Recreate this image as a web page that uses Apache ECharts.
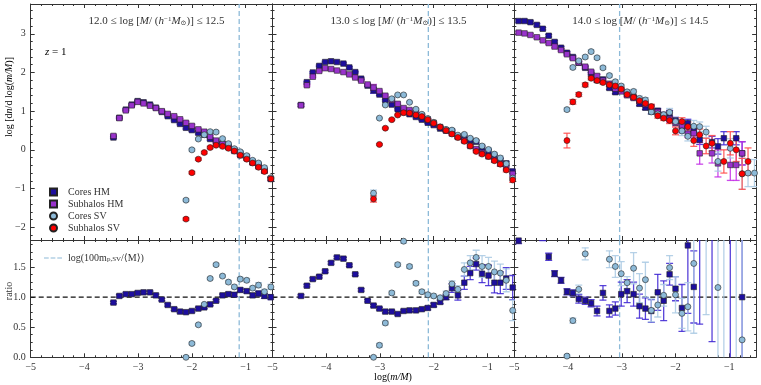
<!DOCTYPE html>
<html>
<head>
<meta charset="utf-8">
<script src="https://cdn.jsdelivr.net/npm/echarts@6/dist/echarts.min.js"></script>
<style>
  html, body { margin: 0; padding: 0; background: #fff; }
  #chart { width: 761px; height: 385px; }
</style>
</head>
<body>
<div id="chart"></div>
<script>
// bin centres in log(m/M), shared by the three halo-mass panels
var logm = [-4.92,-4.81,-4.70,-4.58,-4.47,-4.36,-4.25,-4.13,-4.02,-3.91,-3.80,-3.68,-3.57,-3.46,-3.35,-3.23,-3.12,-3.01,-2.90,-2.78,
            -2.67,-2.56,-2.45,-2.33,-2.22,-2.11,-2.00,-1.88,-1.77,-1.66,-1.55,-1.43,-1.32,-1.21,-1.10,-0.98,-0.87,-0.76,-0.65,-0.53];
var xP1 = logm.slice(13), xP2 = logm.slice(4), xP3 = logm;

var panelTitles = ['12.0', '12.5', '13.0', '13.5', '14.0', '14.5'];
var vLines = [-1.12, -2.10, -3.04];

var xTicks = [-5, -4, -3, -2, -1];
var topTicks = [-2, -1, 0, 1, 2, 3];
var ratioTicks = [0, 0.5, 1, 1.5];
var ratioTickLabels = ['0.0', '0.5', '1.0', '1.5'];

// panel 1: 12.0 - 12.5
var p1CoresHM = [0.32,0.83,1.04,1.17,1.26,1.23,1.17,1.09,0.98,0.87,0.77,0.67,0.57,0.51,0.44,0.39,0.28,0.21,0.16,0.09,-0.01,-0.09,-0.18,-0.32,-0.40,-0.53,-0.75];
var p1SubHM = [0.36,0.82,1.02,1.15,1.24,1.20,1.14,1.08,1.00,0.93,0.87,0.79,0.70,0.62,0.53,0.47,0.34,0.24,0.15,0.07,-0.03,-0.14,-0.22,-0.33,-0.43,-0.54,-0.75];
var p1CoresSV = [null,null,null,null,null,null,null,null,null,null,null,null,-1.30,0.00,0.28,0.39,0.47,0.46,0.29,0.16,0.03,-0.05,-0.15,-0.27,-0.34,-0.46,-0.72];
var p1SubSV = [null,null,null,null,null,null,null,null,null,null,null,null,-1.79,-0.59,-0.24,-0.07,0.06,0.12,0.09,0.04,-0.03,-0.14,-0.24,-0.34,-0.45,-0.56,-0.75];
var p1Err = [0.03,0.02,0.02,0.02,0.02,0.02,0.02,0.02,0.02,0.02,0.02,0.02,0.03,0.03,0.03,0.03,0.03,0.03,0.03,0.03,0.03,0.03,0.03,0.03,0.03,0.04,0.04];
var p1RatioHM = [0.91,1.02,1.05,1.05,1.07,1.08,1.08,1.03,0.96,0.87,0.80,0.76,0.75,0.77,0.81,0.83,0.88,0.94,1.03,1.05,1.04,1.12,1.10,1.03,1.06,1.02,1.00];
var p1RatioSV = [null,null,null,null,null,null,null,null,null,null,null,null,0.00,0.23,0.54,0.88,1.31,1.54,1.35,1.25,1.17,1.30,1.28,1.15,1.20,1.09,1.17];
var p1RatioErr = [0.02,0.02,0.02,0.02,0.02,0.02,0.02,0.02,0.02,0.02,0.02,0.02,0.02,0.02,0.02,0.02,0.02,0.02,0.02,0.03,0.03,0.03,0.03,0.03,0.04,0.04,0.04];

// panel 2: 13.0 - 13.5
var p2CoresHM = [1.16,1.75,2.00,2.17,2.27,2.29,2.27,2.23,2.13,2.01,1.84,1.66,1.54,1.43,1.28,1.17,1.05,0.97,0.92,0.85,0.78,0.70,0.64,0.55,0.50,0.48,0.34,0.33,0.25,0.21,0.06,-0.04,-0.17,-0.27,-0.35,-0.56];
var p2SubHM = [1.15,1.67,1.89,2.04,2.11,2.09,2.05,2.01,1.95,1.87,1.79,1.69,1.61,1.52,1.40,1.29,1.19,1.08,1.03,0.96,0.88,0.79,0.70,0.59,0.50,0.42,0.33,0.24,0.10,0.02,-0.08,-0.17,-0.26,-0.36,-0.47,-0.62];
var p2CoresSV = [null,null,null,null,null,null,null,null,null,null,null,null,-1.12,0.82,1.16,1.32,1.42,1.42,1.23,1.05,0.92,0.81,0.71,0.59,0.53,0.51,0.38,0.40,0.30,0.24,0.10,0.01,-0.11,-0.21,-0.36,-0.73];
var p2SubSV = [null,null,null,null,null,null,null,null,null,null,null,null,-1.27,0.14,0.56,0.78,0.90,0.96,0.95,0.90,0.86,0.78,0.69,0.59,0.50,0.41,0.32,0.22,0.10,-0.04,-0.11,-0.17,-0.28,-0.37,-0.52,-0.78];
var p2Err = [0.03,0.02,0.02,0.02,0.02,0.02,0.02,0.02,0.02,0.02,0.02,0.02,0.08,0.02,0.02,0.02,0.02,0.02,0.02,0.02,0.02,0.02,0.02,0.02,0.03,0.03,0.03,0.03,0.03,0.03,0.04,0.04,0.04,0.05,0.05,0.06];
var p2RatioHM = [1.02,1.19,1.30,1.34,1.43,1.57,1.66,1.64,1.53,1.38,1.12,0.94,0.86,0.81,0.76,0.76,0.72,0.77,0.78,0.78,0.80,0.82,0.87,0.92,1.00,1.15,1.03,1.24,1.40,1.55,1.39,1.36,1.24,1.24,1.31,1.16];
var p2RatioHMErr = [0.02,0.02,0.02,0.02,0.02,0.02,0.02,0.02,0.02,0.02,0.02,0.02,0.02,0.02,0.02,0.02,0.02,0.02,0.02,0.02,0.02,0.03,0.03,0.03,0.04,0.07,0.08,0.11,0.11,0.10,0.15,0.17,0.17,0.18,0.18,0.20];
var p2RatioSV = [null,null,null,null,null,null,null,null,null,null,null,null,0.00,0.20,0.57,1.07,1.54,1.93,1.51,1.23,1.09,1.04,1.02,0.99,1.06,1.22,1.13,1.46,1.57,1.66,1.51,1.51,1.42,1.40,1.28,0.78];
var p2RatioSVErr = [null,null,null,null,null,null,null,null,null,null,null,null,0.02,0.03,0.03,0.03,0.03,0.03,0.03,0.03,0.03,0.03,0.03,0.03,0.04,0.05,0.06,0.11,0.12,0.12,0.18,0.15,0.18,0.15,0.19,0.17];

// panel 3: 14.0 - 14.5
var p3CoresHM = [3.33,3.33,3.30,3.23,3.13,2.95,2.79,2.64,2.51,2.40,2.25,2.12,1.97,1.80,1.82,1.60,1.49,1.53,1.45,1.36,1.19,1.09,0.99,1.01,0.87,0.94,0.76,0.54,0.69,0.50,0.26,null,0.20,0.09,0.30,null,0.30,-0.09,null,null];
var p3CoresHMErr = [0.03,0.03,0.03,0.03,0.03,0.03,0.03,0.03,0.03,0.03,0.03,0.03,0.03,0.04,0.04,0.04,0.04,0.04,0.04,0.04,0.05,0.05,0.06,0.06,0.07,0.08,0.08,0.10,0.10,0.10,0.12,null,0.15,0.20,0.17,null,0.17,0.30,null,null];
var p3SubHM = [3.03,3.01,2.97,2.91,2.83,2.76,2.67,2.58,2.47,2.37,2.26,2.15,2.02,1.91,1.79,1.71,1.58,1.51,1.41,1.34,1.26,1.18,1.10,0.98,0.90,0.80,0.70,0.63,0.42,0.43,-0.09,null,-0.09,-0.35,null,-0.39,-0.39,-0.09,null,null];
var p3SubHMErr = [0.03,0.03,0.03,0.03,0.03,0.03,0.03,0.03,0.03,0.03,0.03,0.03,0.03,0.04,0.04,0.04,0.04,0.04,0.04,0.04,0.05,0.05,0.06,0.06,0.07,0.08,0.08,0.08,0.10,0.10,0.28,null,0.25,0.35,null,0.40,0.40,0.30,null,null];
var p3CoresSV = [null,null,null,null,null,null,null,null,1.04,2.13,2.30,2.40,2.54,2.38,2.12,1.92,1.76,1.65,1.50,1.51,1.33,1.29,0.98,0.93,0.91,0.97,0.73,0.49,0.35,0.61,0.60,0.46,null,-0.30,null,0.04,null,-0.62,-0.60,-0.60];
var p3CoresSVErr = [null,null,null,null,null,null,null,null,0.04,0.04,0.04,0.04,0.04,0.04,0.04,0.04,0.04,0.04,0.05,0.05,0.06,0.06,0.06,0.06,0.06,0.10,0.10,0.12,0.12,0.15,0.12,0.15,null,0.25,null,0.25,null,0.40,0.35,0.35];
var p3SubSV = [null,null,null,null,null,null,null,null,0.24,1.24,1.43,1.68,1.85,1.79,1.74,1.68,1.65,1.57,1.43,1.36,1.27,1.20,1.12,0.88,0.82,0.76,0.49,0.73,0.60,0.24,0.39,0.10,0.17,null,-0.30,0.17,0.00,-0.62,-0.30,null];
var p3SubSVErr = [null,null,null,null,null,null,null,null,0.19,0.06,0.05,0.05,0.04,0.04,0.04,0.04,0.04,0.04,0.05,0.05,0.06,0.06,0.06,0.06,0.06,0.08,0.10,0.10,0.12,0.15,0.15,0.20,0.20,null,0.30,0.30,0.30,0.40,0.35,null];
var p3RatioHM = [1.94,2.09,2.14,2.09,1.99,1.67,1.39,1.28,1.09,1.07,0.97,0.94,0.90,0.77,1.07,0.77,0.81,1.05,1.10,1.05,0.85,0.81,0.77,1.08,0.94,1.38,1.14,0.82,1.86,1.17,2.30,null,2.20,null,null,2.20,null,1.00,null,null];
var p3RatioHMErr = [0.05,0.05,0.05,0.05,0.05,0.06,0.05,0.05,0.05,0.05,0.07,0.06,0.06,0.08,0.12,0.10,0.11,0.20,0.19,0.20,0.20,0.18,0.19,0.30,0.33,0.18,0.20,0.39,1.13,0.60,1.75,null,1.94,null,null,2.50,null,1.50,null,null];
var p3RatioSV = [null,null,null,null,null,null,null,null,0.02,0.61,1.13,1.72,3.30,2.90,2.10,1.63,1.51,1.39,1.24,1.48,1.15,1.29,0.78,0.87,1.03,1.49,1.04,0.73,0.84,1.56,null,2.50,null,1.16,2.50,null,2.50,0.29,null,null];
var p3RatioSVErr = [null,null,null,null,null,null,null,null,0.02,0.04,0.07,0.10,0.10,0.10,0.10,0.14,0.18,0.20,0.10,0.26,0.24,0.29,0.19,0.20,0.18,0.20,0.30,0.25,0.40,1.16,null,1.79,null,1.50,3.00,null,3.00,1.70,null,null];

var SERIF = '"Liberation Serif", "DejaVu Serif", serif';
var AX = '#333';
var VLINE = 'log(100m_p,SV/<M>)';
var STY = {
    coresHM: { name: 'Cores HM', symbol: 'rect', color: '#1d0e9e', bar: '#3b22d2' },
    subHM: { name: 'Subhalos HM', symbol: 'rect', color: '#9932cc', bar: '#c32ce6' },
    coresSV: { name: 'Cores SV', symbol: 'circle', color: '#8dbad8', bar: '#a9c9e3' },
    subSV: { name: 'Subhalos SV', symbol: 'circle', color: '#ff0000', bar: '#ff4a4a' }
};
var RICH = {
    r: { fontFamily: SERIF, fontSize: 11, fontWeight: 'normal', color: '#333' },
    i: { fontFamily: SERIF, fontSize: 11, fontWeight: 'normal', fontStyle: 'italic', color: '#333' },
    s: { fontFamily: SERIF, fontSize: 7, fontWeight: 'normal', color: '#333', verticalAlign: 'top' },
    b: { fontFamily: SERIF, fontSize: 7, fontWeight: 'normal', color: '#333', verticalAlign: 'bottom' }
};

var chart = echarts.init(document.getElementById('chart'));

var colLeft = [30.7, 272.5, 514.3], colW = 241.8;
var grids = [], xAxes = [], yAxes = [], series = [];

function minus(v) { return String(v).replace('-', '\u2212'); }

function range(a, b, step, skip) {
    var out = [];
    for (var v = a; v <= b + 1e-9; v += step) {
        var r = Math.round(v * 1000) / 1000;
        if (Math.abs(r / skip - Math.round(r / skip)) > 1e-6) out.push(r);
    }
    return out;
}
var xMinor = range(-4.8, -0.6, 0.2, 1);
var topMinor = range(-2.2, 3.6, 0.2, 1);
var ratioMinor = range(0.125, 1.875, 0.125, 0.5);

// one major + one minor axis on a side, ticks pointing in
function addAxes(list, g, pos, min, max, major, minor, showLabel, fmt) {
    var idx = list.length;
    var base = { gridIndex: g, type: 'value', min: min, max: max, position: pos, splitLine: { show: false } };
    list.push(Object.assign({}, base, {
        axisLine: { show: true, onZero: false, lineStyle: { color: AX, width: 1 } },
        axisTick: { show: true, inside: true, length: 4, customValues: major, lineStyle: { color: AX } },
        axisLabel: { show: showLabel, customValues: major, formatter: fmt, margin: 5,
            color: '#333', fontFamily: SERIF, fontSize: 10 }
    }));
    list.push(Object.assign({}, base, {
        axisLine: { show: false, onZero: false },
        axisTick: { show: true, inside: true, length: 2, customValues: minor, lineStyle: { color: AX } },
        axisLabel: { show: false }
    }));
    return idx;
}

function ratioFmt(v) {
    var i = ratioTicks.indexOf(v);
    return i >= 0 ? ratioTickLabels[i] : '';
}

function pts(xa, ya) {
    var d = [];
    for (var i = 0; i < xa.length; i++) if (ya[i] != null) d.push([xa[i], ya[i]]);
    return d;
}

function errBars(xa, ya, ea, sty, xi, yi) {
    var d = [];
    for (var i = 0; i < xa.length; i++) {
        if (ya[i] != null && ea[i] != null) d.push([xa[i], ya[i] - ea[i], ya[i] + ea[i]]);
    }
    series.push({
        type: 'custom', name: sty.name + ' err', xAxisIndex: xi, yAxisIndex: yi,
        data: d, clip: true, silent: true, z: 2, encode: { x: 0, y: [1, 2] },
        renderItem: function (params, api) {
            var t = api.coord([api.value(0), api.value(2)]);
            var b = api.coord([api.value(0), api.value(1)]);
            var st = { stroke: sty.bar, lineWidth: 1.3, opacity: 0.85 };
            var cap = 3.5;
            return { type: 'group', children: [
                { type: 'line', shape: { x1: t[0], y1: t[1], x2: b[0], y2: b[1] }, style: st },
                { type: 'line', shape: { x1: t[0] - cap, y1: t[1], x2: t[0] + cap, y2: t[1] }, style: st },
                { type: 'line', shape: { x1: b[0] - cap, y1: b[1], x2: b[0] + cap, y2: b[1] }, style: st }
            ] };
        }
    });
}

function marks(xa, ya, ea, sty, xi, yi) {
    errBars(xa, ya, ea, sty, xi, yi);
    series.push({
        type: 'scatter', name: sty.name, xAxisIndex: xi, yAxisIndex: yi,
        symbol: sty.symbol, symbolSize: sty.symbol === 'rect' ? 5.5 : 6, silent: true, z: 2,
        itemStyle: { color: sty.color, borderColor: '#222', borderWidth: 0.6, opacity: 1 },
        data: pts(xa, ya)
    });
}

function refLine(name, data, color, xi, yi) {
    series.push({
        type: 'line', name: name, xAxisIndex: xi, yAxisIndex: yi, data: data,
        symbol: 'none', silent: true, z: 1,
        itemStyle: { color: color },
        lineStyle: { color: color, width: 1.3, type: [5, 3] }
    });
}

// build the 2 x 3 grid of panels
var panels = [
    { x: xP1, top: [p1CoresHM, p1SubHM, p1CoresSV, p1SubSV], topErr: [p1Err, p1Err, p1Err, p1Err],
      ratio: [p1RatioHM, p1RatioSV], ratioErr: [p1RatioErr, p1RatioErr] },
    { x: xP2, top: [p2CoresHM, p2SubHM, p2CoresSV, p2SubSV], topErr: [p2Err, p2Err, p2Err, p2Err],
      ratio: [p2RatioHM, p2RatioSV], ratioErr: [p2RatioHMErr, p2RatioSVErr] },
    { x: xP3, top: [p3CoresHM, p3SubHM, p3CoresSV, p3SubSV], topErr: [p3CoresHMErr, p3SubHMErr, p3CoresSVErr, p3SubSVErr],
      ratio: [p3RatioHM, p3RatioSV], ratioErr: [p3RatioHMErr, p3RatioSVErr] }
];
var order = [STY.coresHM, STY.subHM, STY.coresSV, STY.subSV];

panels.forEach(function (p, c) {
    // top row
    var g = grids.length;
    grids.push({ left: colLeft[c], top: 4, width: colW, height: 236 });
    var xi = addAxes(xAxes, g, 'bottom', -5, -0.5, xTicks, xMinor, false, minus);
    addAxes(xAxes, g, 'top', -5, -0.5, xTicks, xMinor, false, minus);
    var yi = addAxes(yAxes, g, 'left', -2.33, 3.77, topTicks, topMinor, c === 0, minus);
    addAxes(yAxes, g, 'right', -2.33, 3.77, topTicks, topMinor, false, minus);
    refLine(VLINE, [[vLines[c], -2.33], [vLines[c], 3.77]], '#8dbad8', xi, yi);
    order.forEach(function (sty, s) { marks(p.x, p.top[s], p.topErr[s], sty, xi, yi); });

    // ratio row
    var h = grids.length;
    grids.push({ left: colLeft[c], top: 240, width: colW, height: 117.3 });
    var rxi = addAxes(xAxes, h, 'bottom', -5, -0.5, xTicks, xMinor, true, minus);
    addAxes(xAxes, h, 'top', -5, -0.5, xTicks, xMinor, false, minus);
    var ryi = addAxes(yAxes, h, 'left', 0, 1.95, ratioTicks, ratioMinor, c === 0, ratioFmt);
    addAxes(yAxes, h, 'right', 0, 1.95, ratioTicks, ratioMinor, false, ratioFmt);
    refLine('unity', [[-5, 1], [-0.5, 1]], '#111', rxi, ryi);
    refLine(VLINE, [[vLines[c], 0], [vLines[c], 1.95]], '#8dbad8', rxi, ryi);
    marks(p.x, p.ratio[0], p.ratioErr[0], STY.coresHM, rxi, ryi);
    marks(p.x, p.ratio[1], p.ratioErr[1], STY.coresSV, rxi, ryi);
});

var titles = [0, 1, 2].map(function (c) {
    return {
        text: '{r|' + panelTitles[2 * c] + ' \u2264 log [}{i|M}{r|/ (}{i|h}{s|\u22121}{i|M}{b|\u2299}{r|)] \u2264 ' + panelTitles[2 * c + 1] + '}',
        left: colLeft[c] + colW / 2, top: 11, textAlign: 'center',
        textStyle: { fontWeight: 'normal', rich: RICH }
    };
});

var option = {
    animation: false,
    backgroundColor: '#fff',
    title: titles,
    grid: grids,
    xAxis: xAxes,
    yAxis: yAxes,
    legend: [{
        data: ['Cores HM', 'Subhalos HM', 'Cores SV', 'Subhalos SV'],
        orient: 'vertical', left: 44, top: 182, itemWidth: 7, itemHeight: 7, itemGap: 2,
        selectedMode: false,
        textStyle: { fontFamily: SERIF, fontSize: 10, color: '#333', padding: [0, 0, 0, 6] }
    }, {
        data: [{ name: VLINE, icon: 'path://M0,0H5V1H0Z M7,0H12V1H7Z M14,0H19V1H14Z' }],
        orient: 'vertical', left: 39, top: 248, itemWidth: 18, itemHeight: 1.3,
        selectedMode: false,
        itemStyle: { color: '#8dbad8', borderWidth: 0 },
        formatter: function () { return '{n|log(100m}{b|p,SV}{n|/\u27e8M\u27e9)}'; },
        textStyle: { padding: [0, 0, 0, 1], rich: {
            n: { fontFamily: SERIF, fontSize: 10, color: '#333' },
            b: { fontFamily: SERIF, fontSize: 7, color: '#333', verticalAlign: 'bottom' }
        } }
    }],
    graphic: [
        { type: 'text', x: 45, y: 52, style: { text: '{i|z}{r| = 1}', rich: RICH, verticalAlign: 'middle' } },
        { type: 'text', x: 9, y: 97, rotation: Math.PI / 2,
          style: { text: '{r|log [d}{i|n}{r|/d log(}{i|m/M}{r|)]}', rich: {
              r: { fontFamily: SERIF, fontSize: 10, color: '#333' },
              i: { fontFamily: SERIF, fontSize: 10, fontStyle: 'italic', color: '#333' } },
              align: 'center', verticalAlign: 'middle' } },
        { type: 'text', x: 9, y: 291, rotation: Math.PI / 2,
          style: { text: 'ratio', font: '10px ' + SERIF, fill: '#333', align: 'center', verticalAlign: 'middle' } },
        { type: 'text', x: 393, y: 377,
          style: { text: '{r|log(}{i|m/M}{r|)}', rich: {
              r: { fontFamily: SERIF, fontSize: 10, color: '#333' },
              i: { fontFamily: SERIF, fontSize: 10, fontStyle: 'italic', color: '#333' } },
              align: 'center', verticalAlign: 'middle' } }
    ],
    series: series
};

chart.setOption(option);
</script>
</body>
</html>
